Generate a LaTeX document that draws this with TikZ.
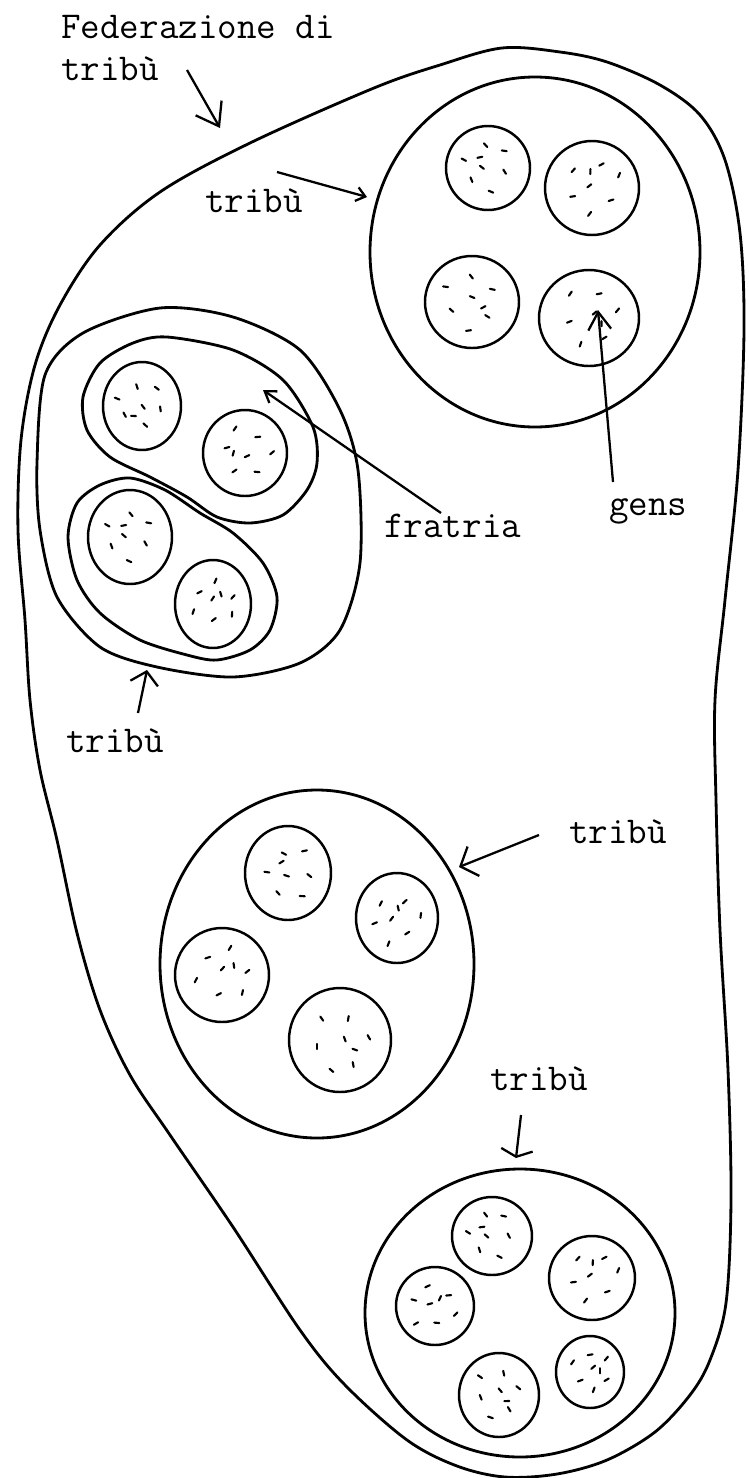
\documentclass[tikz,border=0pt]{standalone}
\usepackage{tikz}
\usetikzlibrary{arrows.meta}

% una gens: contorno e qualche puntino dentro
\newcommand{\gente}[4]{%
  \draw[cerchio] (#1,#2) ellipse [x radius=#3, y radius=#4];
  \foreach \ang/\dist/\ori in {30/0.55/80, 100/0.5/100, 150/0.6/60, 210/0.45/110, 270/0.6/75, 330/0.5/120, 0/0.1/90, 75/0.3/40}{
    \draw[puntino, shift={(#1,#2)}] ({\ang+#2}:{\dist*#3}) -- ++({\ori+#1}:5);
  }
}

\begin{document}
\begin{tikzpicture}[x=0.02cm, y=-0.02cm,
    bordo/.style={line width=1.6pt},
    cerchio/.style={line width=1.4pt},
    puntino/.style={line width=1.2pt, line cap=round},
    etichetta/.style={font=\ttfamily\fontsize{21.6}{26}\selectfont, anchor=base west, inner sep=0pt},
    freccia/.style 2 args={line width=1.3pt, -{Straight Barb[length=#1, width=#2]}}]
    \useasboundingbox (0,0) rectangle (748,1478);
    % la federazione
    \draw[bordo] plot[smooth cycle, tension=0.55] coordinates {
      (502,48) (560,52) (607,62) (660,85) (700,115) (725,160) (740,233) (744,330)
      (738,470) (725,600) (715,700) (716,800) (720,930) (728,1070) (731,1200)
      (726,1303) (710,1360) (690,1395) (655,1432) (607,1460) (557,1474) (505,1477)
      (457,1466) (407,1440) (345,1385) (300,1330) (233,1227) (170,1135) (130,1075)
      (100,1010) (77,933) (57,840) (40,770)
      (30,700) (25,620) (18,530) (21,440) (35,365) (60,305) (100,245)
      (160,192) (250,143) (374,88) (440,65)};
    % tribù in alto a destra
    \draw[bordo] (535,252) ellipse [x radius=165, y radius=175];
    \gente{488}{168}{42}{42}
    \gente{592}{188}{47}{47}
    \gente{472}{302}{47}{46}
    \gente{589}{318}{50}{48}
    % tribù a sinistra, con due fratrie
    \draw[bordo] plot[smooth cycle] coordinates {
      (160,308) (233,317) (300,350) (340,410) (358,470) (360,563) (340,630) (300,663)
      (233,677) (157,667) (100,647) (57,597) (40,530) (37,463) (45,375) (83,333)};
    \draw[bordo] plot[smooth cycle] coordinates {
      (167,337) (233,350) (283,380) (313,427) (317,463) (307,490) (283,515) (250,523)
      (217,517) (187,497) (150,477) (110,457) (87,430) (83,397) (100,363) (133,343)};
    \draw[bordo] plot[smooth cycle] coordinates {
      (130,478) (165,490) (200,513) (233,533) (263,563) (277,597) (270,630) (250,650)
      (217,660) (187,655) (140,640) (100,613) (77,580) (68,537) (77,503) (100,485)};
    \gente{142}{406}{39}{44}
    \gente{245}{453}{42}{43}
    \gente{130}{537}{42}{47}
    \gente{213}{604}{38}{44}
    % tribù centrale
    \draw[bordo] (317,964) ellipse [x radius=157, y radius=174];
    \gente{288}{873}{43}{47}
    \gente{397}{918}{41}{45}
    \gente{222}{975}{47}{47}
    \gente{340}{1040}{51}{52}
    % tribù in basso
    \draw[bordo] (520,1313) ellipse [x radius=155, y radius=144];
    \gente{492}{1236}{40}{39}
    \gente{592}{1278}{43}{42}
    \gente{435}{1306}{39}{39}
    \gente{499}{1395}{40}{42}
    \gente{590}{1372}{34}{36}
    % etichette
    \node[etichetta] (federazione) at (61,38) {Federazione di};
    \node[etichetta] (fedtribu) at (61,80) {tribù};
    \node[etichetta] (tribuA) at (205,212) {tribù};
    \node[etichetta] (fratria) at (384,537) {fratria};
    \node[etichetta] (gens) at (609,515) {gens};
    \node[etichetta] (tribuB) at (66,752) {tribù};
    \node[etichetta] (tribuC) at (569,843) {tribù};
    \node[etichetta] (tribuD) at (490,1090) {tribù};
    % frecce
    \coordinate (fedcoda) at (187,70);   \coordinate (fedpunta) at (220,128);
    \coordinate (Acoda) at (277,172);    \coordinate (Apunta) at (367,197);
    \coordinate (gcoda) at (613,482);    \coordinate (gpunta) at (598,310);
    \coordinate (fcoda) at (441,513);    \coordinate (fpunta) at (263,390);
    \coordinate (Bcoda) at (138,713);    \coordinate (Bpunta) at (147,670);
    \coordinate (Ccoda) at (539,835);    \coordinate (Cpunta) at (459,867);
    \coordinate (Dcoda) at (521,1115);   \coordinate (Dpunta) at (516,1158);
    \draw[freccia={12pt}{17pt}] (fedcoda) -- (fedpunta);
    \draw[freccia={5pt}{8pt}] (Acoda) -- (Apunta);
    \draw[freccia={10pt}{13pt}] (gcoda) -- (gpunta);
    \draw[freccia={6pt}{8pt}] (fcoda) -- (fpunta);
    \draw[freccia={7pt}{16pt}] (Bcoda) -- (Bpunta);
    \draw[freccia={8pt}{18pt}] (Ccoda) -- (Cpunta);
    \draw[freccia={4pt}{18pt}] (Dcoda) -- (Dpunta);
\end{tikzpicture}
\end{document}
